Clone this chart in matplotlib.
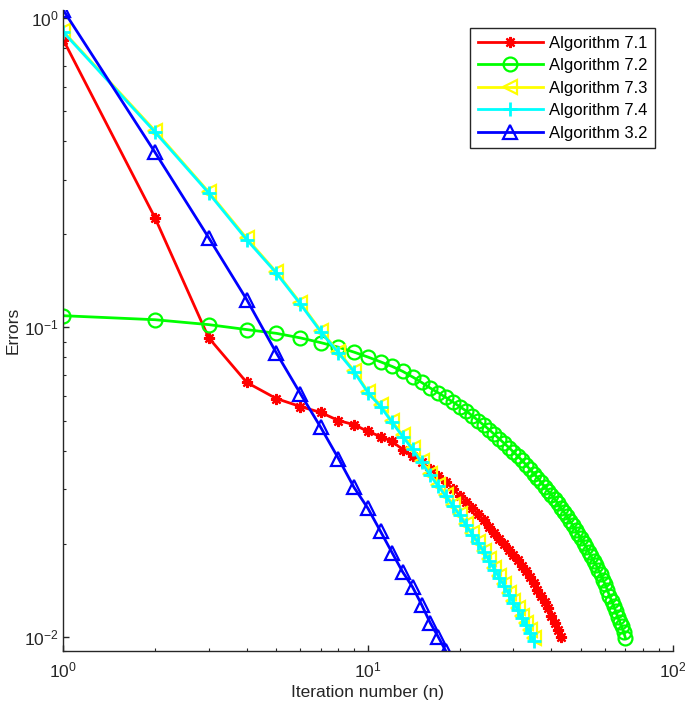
import matplotlib
matplotlib.use("Agg")
import matplotlib.pyplot as plt
from matplotlib.ticker import LogLocator, NullFormatter

plt.rcParams['font.family'] = ['Liberation Sans', 'DejaVu Sans']

# errors per iteration
alg71 = [0.85, 0.226, 0.0926, 0.0664, 0.0589, 0.0555, 0.0531, 0.0500, 0.0485, 0.0461,
         0.0444, 0.0428, 0.0403, 0.0384, 0.0366, 0.0348, 0.0332, 0.0316, 0.0301, 0.0286,
         0.0273, 0.0261, 0.0249, 0.0238, 0.0227, 0.0217, 0.0207, 0.0199, 0.0191, 0.0184,
         0.0177, 0.0169, 0.0163, 0.0156, 0.0149, 0.0142, 0.0136, 0.0130, 0.0124, 0.0117,
         0.0111, 0.0105, 0.0100]

alg72 = [0.1091, 0.1059, 0.1021, 0.0984, 0.0957, 0.0925, 0.0893, 0.0863, 0.0832, 0.0802,
         0.0774, 0.0748, 0.0721, 0.0692, 0.0664, 0.0637, 0.0615, 0.0594, 0.0574, 0.0555,
         0.0537, 0.0518, 0.0500, 0.0483, 0.0467, 0.0451, 0.0436, 0.0422, 0.0409, 0.0396,
         0.0384, 0.0372, 0.0360, 0.0348, 0.0337, 0.0327, 0.0316, 0.0306, 0.0296, 0.0288,
         0.0279, 0.0270, 0.0261, 0.0253, 0.0245, 0.0237, 0.0229, 0.0222, 0.0215, 0.0208,
         0.0201, 0.0195, 0.0188, 0.0182, 0.0176, 0.0171, 0.0165, 0.0160, 0.0153, 0.0148,
         0.0142, 0.0136, 0.0131, 0.0126, 0.0121, 0.0116, 0.0112, 0.0108, 0.0104, 0.0099]

alg73 = [0.905, 0.432, 0.274, 0.194, 0.151, 0.120, 0.0975, 0.0835, 0.0725, 0.0620,
         0.0560, 0.0497, 0.0448, 0.0407, 0.0369, 0.0336, 0.0310, 0.0288, 0.0267, 0.0249,
         0.0231, 0.0216, 0.0203, 0.0190, 0.0178, 0.0167, 0.0157, 0.0148, 0.0139, 0.0131,
         0.0124, 0.0117, 0.0111, 0.0105, 0.0099]

alg74 = [0.900, 0.428, 0.272, 0.192, 0.150, 0.119, 0.0968, 0.0828, 0.0719, 0.0615,
         0.0555, 0.0493, 0.0444, 0.0404, 0.0366, 0.0333, 0.0307, 0.0285, 0.0265, 0.0247,
         0.0229, 0.0214, 0.0201, 0.0188, 0.0176, 0.0165, 0.0155, 0.0146, 0.0137, 0.0129,
         0.0122, 0.0115, 0.0109, 0.0103, 0.0097]

alg32 = [1.06, 0.368, 0.195, 0.123, 0.0828, 0.0611, 0.0475, 0.0377, 0.0304, 0.0260,
         0.0219, 0.0187, 0.0162, 0.0145, 0.0127, 0.0111, 0.0100, 0.0090]

labels = ["Algorithm 7.1", "Algorithm 7.2", "Algorithm 7.3", "Algorithm 7.4", "Algorithm 3.2"]


def iters(vals):
    return list(range(1, len(vals) + 1))


fig = plt.figure(figsize=(6.85, 7.12), dpi=100)
ax = fig.add_axes([0.0924, 0.0857, 0.8896, 0.900])

ax.loglog(iters(alg71), alg71, color='red', lw=2, marker=(8, 2, 0), ms=8, mew=1.6, label=labels[0])
ax.loglog(iters(alg72), alg72, color=(0, 1, 0), lw=2, marker='o', ms=10, mew=1.6,
          mfc='none', label=labels[1])
ax.loglog(iters(alg73), alg73, color=(1, 1, 0), lw=2, marker='<', ms=10, mew=1.6,
          mfc='none', label=labels[2])
ax.loglog(iters(alg74), alg74, color=(0, 1, 1), lw=2, marker='+', ms=10, mew=2, label=labels[3])
ax.loglog(iters(alg32), alg32, color=(0, 0, 1), lw=2, marker='^', ms=10, mew=1.6,
          mfc='none', label=labels[4])

ax.set_xlim(1, 100)
ax.set_ylim(min(alg32), max(alg32))

for s in ['top', 'right']:
    ax.spines[s].set_visible(False)
for s in ['left', 'bottom']:
    ax.spines[s].set_color('#262626')
    ax.spines[s].set_linewidth(1.0)

ax.xaxis.set_minor_locator(LogLocator(base=10, subs=range(2, 10)))
ax.yaxis.set_minor_locator(LogLocator(base=10, subs=range(2, 10)))
ax.xaxis.set_minor_formatter(NullFormatter())
ax.yaxis.set_minor_formatter(NullFormatter())
ax.tick_params(which='both', direction='in', colors='#262626', labelsize=12.5,
               top=False, right=False)
ax.tick_params(which='major', length=4.5, width=1)
ax.tick_params(which='minor', length=2.5, width=0.8)
ax.tick_params(axis='x', pad=7)

ax.set_xlabel("Iteration number (n)", fontsize=12.5, color='#262626', labelpad=3)
ax.set_ylabel("Errors", fontsize=12.5, color='#262626', labelpad=2)

leg = ax.legend(loc='upper right', bbox_to_anchor=(0.985, 0.985), fontsize=12,
                handlelength=3.9, numpoints=1, fancybox=False, framealpha=1,
                edgecolor='#262626', labelspacing=0.45, borderpad=0.45,
                handletextpad=0.4)
leg.get_frame().set_linewidth(1.0)

fig.savefig("out.png", dpi=100)
